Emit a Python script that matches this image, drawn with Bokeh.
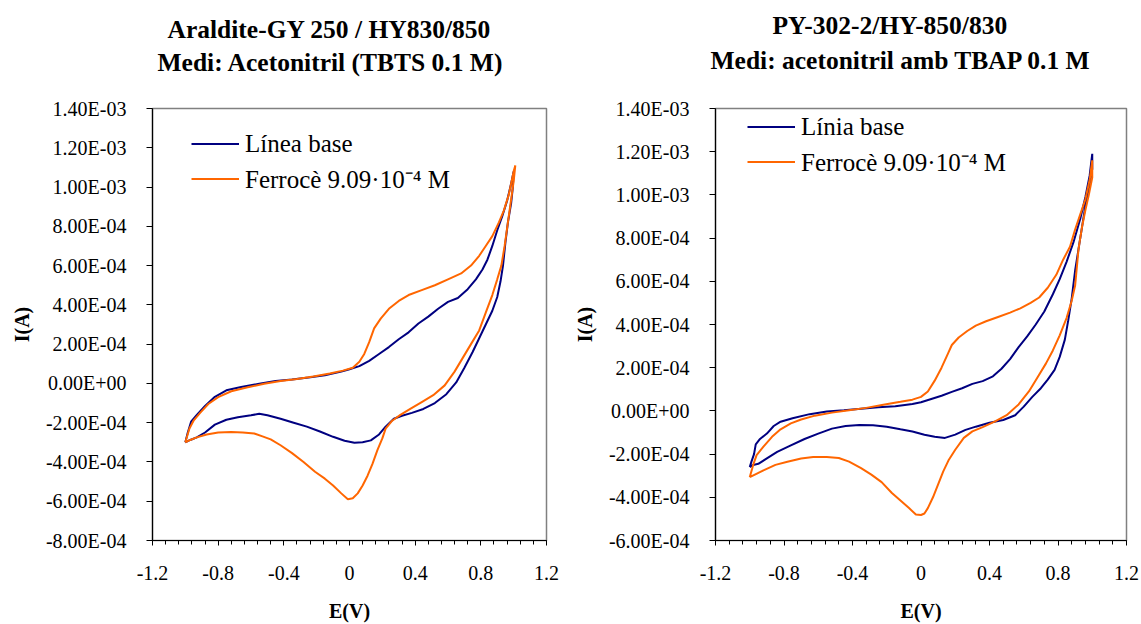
from bokeh.plotting import figure
from bokeh.layouts import row
from bokeh.models import Range1d, FixedTicker, Title, Legend, LegendItem
from bokeh.embed import file_html
from bokeh.resources import INLINE

SERIF = "Liberation Serif"
NAVY = "#000080"
ORANGE = "#FF6600"
FRAME_H = 436

# ---- axis ticks -------------------------------------------------------------
x_ticks = [-1.2, -0.8, -0.4, 0.0, 0.4, 0.8, 1.2]
x_tick_labels = ["-1.2", "-0.8", "-0.4", "0", "0.4", "0.8", "1.2"]

left_y_ticks = [1.4e-3, 1.2e-3, 1.0e-3, 8.0e-4, 6.0e-4, 4.0e-4, 2.0e-4, 0.0,
                -2.0e-4, -4.0e-4, -6.0e-4, -8.0e-4]
left_y_labels = ["1.40E-03", "1.20E-03", "1.00E-03", "8.00E-04", "6.00E-04",
                 "4.00E-04", "2.00E-04", "0.00E+00", "-2.00E-04", "-4.00E-04",
                 "-6.00E-04", "-8.00E-04"]

right_y_ticks = [1.4e-3, 1.2e-3, 1.0e-3, 8.0e-4, 6.0e-4, 4.0e-4, 2.0e-4, 0.0,
                 -2.0e-4, -4.0e-4, -6.0e-4]
right_y_labels = ["1.40E-03", "1.20E-03", "1.00E-03", "8.00E-04", "6.00E-04",
                  "4.00E-04", "2.00E-04", "0.00E+00", "-2.00E-04", "-4.00E-04",
                  "-6.00E-04"]

# ---- voltammograms: potential E (V), current in units of 1e-4 A -------------
# Araldite-GY 250 / HY830/850, baseline
arl_base_E = [-1.0, -0.985, -0.965, -0.93, -0.88, -0.82, -0.75, -0.66, -0.55, -0.45,
              -0.35, -0.25, -0.15, -0.05, 0.0, 0.06, 0.12, 0.18, 0.24, 0.30,
              0.36, 0.42, 0.48, 0.54, 0.60, 0.66, 0.72, 0.77, 0.81, 0.84,
              0.87, 0.90, 0.93, 0.96, 0.985, 1.0,
              0.995, 0.985, 0.965, 0.95, 0.935, 0.92, 0.90, 0.87, 0.83, 0.79,
              0.75, 0.70, 0.65, 0.59, 0.52, 0.45, 0.38, 0.32, 0.27, 0.22,
              0.18, 0.13, 0.08, 0.03, -0.03, -0.10, -0.18, -0.26, -0.34, -0.42,
              -0.50, -0.55, -0.60, -0.68, -0.75, -0.82, -0.88, -0.93, -0.97, -1.0]
arl_base_I = [-3.0, -2.5, -1.95, -1.6, -1.15, -0.68, -0.35, -0.18, -0.02, 0.12,
              0.2, 0.3, 0.42, 0.6, 0.72, 0.88, 1.15, 1.5, 1.85, 2.25,
              2.6, 3.05, 3.4, 3.8, 4.15, 4.35, 4.8, 5.3, 5.8, 6.3,
              7.0, 7.8, 8.5, 9.3, 10.2, 10.8,
              10.0, 9.2, 8.2, 7.2, 6.0, 5.2, 4.4, 3.7, 3.0, 2.3,
              1.6, 0.8, 0.05, -0.55, -1.0, -1.3, -1.5, -1.65, -1.8, -2.2,
              -2.6, -2.9, -3.0, -3.02, -2.92, -2.72, -2.45, -2.2, -2.0, -1.8,
              -1.62, -1.55, -1.62, -1.72, -1.85, -2.1, -2.5, -2.75, -2.88, -3.0]

# Araldite-GY 250 / HY830/850, ferrocene 9.09e-4 M
arl_fc_E = [-1.0, -0.975, -0.95, -0.91, -0.86, -0.80, -0.72, -0.62, -0.52, -0.42,
            -0.32, -0.22, -0.12, -0.04, 0.02, 0.06, 0.09, 0.12, 0.15, 0.19,
            0.24, 0.30, 0.36, 0.44, 0.52, 0.60, 0.68, 0.74, 0.79, 0.83,
            0.87, 0.91, 0.94, 0.97, 1.0, 1.01,
            1.0, 0.985, 0.965, 0.945, 0.925, 0.90, 0.87, 0.83, 0.79, 0.74,
            0.69, 0.64, 0.58, 0.51, 0.44, 0.37, 0.31, 0.26, 0.22, 0.20,
            0.17, 0.14, 0.11, 0.08, 0.05, 0.02, -0.01, -0.05, -0.10, -0.15,
            -0.21, -0.28, -0.35, -0.42, -0.48, -0.53, -0.58, -0.65, -0.72, -0.80,
            -0.87, -0.93, -0.97, -1.0]
arl_fc_I = [-3.0, -2.3, -1.9, -1.5, -1.05, -0.7, -0.4, -0.2, -0.02, 0.12,
            0.22, 0.35, 0.5, 0.65, 0.8, 1.1, 1.5, 2.1, 2.8, 3.3,
            3.8, 4.2, 4.5, 4.75, 5.0, 5.3, 5.6, 6.0, 6.5, 7.0,
            7.5, 8.2, 8.8, 9.6, 10.8, 11.1,
            10.3, 9.4, 8.2, 7.0, 6.0, 5.3, 4.5, 3.6, 2.7, 2.0,
            1.3, 0.6, -0.1, -0.6, -0.95, -1.3, -1.6, -1.9, -2.3, -2.8,
            -3.4, -4.1, -4.7, -5.2, -5.6, -5.85, -5.9, -5.6, -5.2, -4.85,
            -4.5, -4.0, -3.55, -3.15, -2.85, -2.7, -2.55, -2.5, -2.48, -2.5,
            -2.6, -2.75, -2.88, -3.0]

# PY-302-2/HY-850/830, baseline
py_base_E = [-1.0, -0.99, -0.975, -0.965, -0.94, -0.90, -0.86, -0.82, -0.75, -0.65,
             -0.55, -0.45, -0.35, -0.25, -0.15, -0.05, 0.0, 0.06, 0.12, 0.18,
             0.24, 0.30, 0.36, 0.42, 0.47, 0.52, 0.57, 0.62, 0.67, 0.72,
             0.77, 0.81, 0.85, 0.89, 0.93, 0.96, 0.985, 1.0,
             1.0, 0.98, 0.96, 0.94, 0.92, 0.90, 0.88, 0.86, 0.84, 0.81,
             0.78, 0.74, 0.70, 0.65, 0.60, 0.55, 0.48, 0.40, 0.32, 0.26,
             0.20, 0.14, 0.08, 0.02, -0.05, -0.12, -0.20, -0.28, -0.36, -0.44,
             -0.52, -0.60, -0.68, -0.76, -0.84, -0.90, -0.95, -0.98, -1.0]
py_base_I = [-2.6, -2.35, -2.0, -1.55, -1.3, -1.05, -0.7, -0.5, -0.34, -0.15,
             -0.03, 0.03, 0.1, 0.17, 0.22, 0.32, 0.4, 0.55, 0.7, 0.88,
             1.05, 1.25, 1.38, 1.6, 1.95, 2.4, 2.95, 3.45, 4.0, 4.6,
             5.4, 6.1, 6.9, 7.8, 8.9, 9.9, 10.9, 11.9,
             11.2, 10.3, 9.5, 8.5, 7.5, 6.5, 5.2, 4.2, 3.3, 2.5,
             1.9, 1.45, 1.05, 0.65, 0.2, -0.2, -0.42, -0.55, -0.73, -0.88,
             -1.1, -1.25, -1.2, -1.1, -0.95, -0.85, -0.73, -0.66, -0.65, -0.7,
             -0.82, -1.05, -1.3, -1.6, -1.9, -2.2, -2.45, -2.5, -2.6]

# PY-302-2/HY-850/830, ferrocene 9.09e-4 M
py_fc_E = [-1.0, -0.98, -0.96, -0.92, -0.87, -0.82, -0.76, -0.70, -0.62, -0.52,
           -0.42, -0.32, -0.22, -0.12, -0.05, 0.0, 0.04, 0.08, 0.12, 0.16,
           0.18, 0.22, 0.27, 0.32, 0.38, 0.45, 0.52, 0.58, 0.64, 0.69,
           0.74, 0.79, 0.83, 0.87, 0.90, 0.93, 0.96, 0.985, 1.0,
           1.0, 0.98, 0.96, 0.94, 0.92, 0.90, 0.88, 0.85, 0.81, 0.77,
           0.73, 0.68, 0.63, 0.57, 0.50, 0.43, 0.36, 0.30, 0.25, 0.20,
           0.16, 0.13, 0.10, 0.07, 0.04, 0.02, 0.0, -0.03, -0.07, -0.12,
           -0.17, -0.23, -0.29, -0.35, -0.42, -0.48, -0.55, -0.63, -0.70, -0.78,
           -0.85, -0.92, -0.97, -1.0]
py_fc_I = [-3.07, -2.5, -2.05, -1.65, -1.2, -0.85, -0.58, -0.4, -0.22, -0.08,
           0.03, 0.14, 0.28, 0.42, 0.52, 0.65, 0.9, 1.4, 2.0, 2.7,
           3.05, 3.4, 3.7, 3.95, 4.15, 4.35, 4.55, 4.75, 5.0, 5.25,
           5.7, 6.3, 7.0, 7.6, 8.4, 9.1, 9.8, 10.7, 11.6,
           10.8, 10.0, 9.3, 8.5, 7.5, 5.8, 5.1, 4.3, 3.5, 2.8,
           2.2, 1.55, 0.9, 0.3, -0.2, -0.5, -0.75, -0.95, -1.25, -1.8,
           -2.3, -2.8, -3.4, -4.0, -4.5, -4.75, -4.82, -4.8, -4.5, -4.15,
           -3.8, -3.3, -2.95, -2.65, -2.35, -2.18, -2.13, -2.13, -2.2, -2.35,
           -2.5, -2.75, -2.95, -3.07]

CURRENT_UNIT = 1e-4  # A


def to_amps(values):
    return [v * CURRENT_UNIT for v in values]


def make_panel(width, borders, title_lines, title_offsets, title_standoffs,
               y_ticks, y_labels, curves, legend_top_left):
    left, right, top, bottom = borders
    p = figure(width=width, height=624, title=None, toolbar_location=None,
               output_backend="svg", min_border_left=left, min_border_right=right,
               min_border_top=top, min_border_bottom=bottom,
               x_range=Range1d(-1.2, 1.2),
               y_range=Range1d(min(y_ticks), max(y_ticks)))
    p.background_fill_color = "white"
    p.border_fill_color = "white"
    p.outline_line_color = "#808080"
    p.outline_line_width = 1.5
    p.xgrid.visible = False
    p.ygrid.visible = False

    minor = [round(-1.2 + 0.08 * k, 2) for k in range(31)]
    p.xaxis.ticker = FixedTicker(ticks=x_ticks, minor_ticks=minor)
    p.xaxis.major_label_overrides = dict(zip(x_ticks, x_tick_labels))
    p.yaxis.ticker = FixedTicker(ticks=y_ticks)
    p.yaxis.major_label_overrides = dict(zip(y_ticks, y_labels))

    for ax in (p.xaxis[0], p.yaxis[0]):
        ax.axis_line_color = "black"
        ax.axis_line_width = 1.2
        ax.major_tick_line_color = "black"
        ax.minor_tick_line_color = "black"
        ax.major_tick_in = 0
        ax.minor_tick_in = 0
        ax.major_label_text_font = SERIF
        ax.major_label_text_font_size = "20px"
        ax.major_label_text_color = "black"
        ax.axis_label_text_font = SERIF
        ax.axis_label_text_font_size = "20px"
        ax.axis_label_text_font_style = "bold"
        ax.axis_label_text_color = "black"

    p.xaxis.major_tick_out = 5
    p.xaxis.minor_tick_out = 4
    p.xaxis.major_label_standoff = 20
    p.xaxis.axis_label = "E(V)"
    p.xaxis.axis_label_standoff = 17

    p.yaxis.major_tick_out = 6
    p.yaxis.minor_tick_out = 0
    p.yaxis.major_label_standoff = 20
    p.yaxis.axis_label = "I(A)"
    p.yaxis.axis_label_standoff = 10

    # two-line bold heading: the second line sits nearest the frame, the
    # first one is stacked above it
    for text, off, so in reversed(list(zip(title_lines, title_offsets, title_standoffs))):
        p.add_layout(Title(text=text, align="left", offset=off, standoff=so,
                           text_font=SERIF, text_font_size="25.5px",
                           text_font_style="bold", text_color="black"), "above")

    items = []
    for label, E, I, color in curves:
        r = p.line(E, to_amps(I), line_color=color, line_width=2)
        items.append(LegendItem(label=label, renderers=[r]))

    item_h, gap = 29, 3
    legend_h = len(items) * item_h + (len(items) - 1) * gap
    lx, ly = legend_top_left
    legend = Legend(items=items, location=(lx, FRAME_H - ly - legend_h),
                    padding=0, margin=0, spacing=gap, glyph_width=48,
                    glyph_height=item_h, label_height=item_h,
                    label_standoff=6, label_text_font=SERIF,
                    label_text_font_size="25px", label_text_color="black",
                    border_line_alpha=0, background_fill_alpha=0)
    p.add_layout(legend, "center")
    return p


fc_label = "Ferrocè 9.09·10⁻⁴ M"

p1 = make_panel(
    570, (152, 24, 108, 80),
    ["Araldite-GY 250 / HY830/850", "Medi: Acetonitril (TBTS 0.1 M)"],
    [15, 5], [-60, 64],
    left_y_ticks, left_y_labels,
    [("Línea base", arl_base_E, arl_base_I, NAVY),
     (fc_label, arl_fc_E, arl_fc_I, ORANGE)],
    (39, 30))

p2 = make_panel(
    571, (139, 15, 105, 83),
    ["PY-302-2/HY-850/830", "Medi: acetonitril amb TBAP 0.1 M"],
    [57, -5], [-60, 68],
    right_y_ticks, right_y_labels,
    [("Línia base", py_base_E, py_base_I, NAVY),
     (fc_label, py_fc_E, py_fc_I, ORANGE)],
    (32, 13))

layout = row(p1, p2)
open("out.html", "w").write(file_html(layout, INLINE))
